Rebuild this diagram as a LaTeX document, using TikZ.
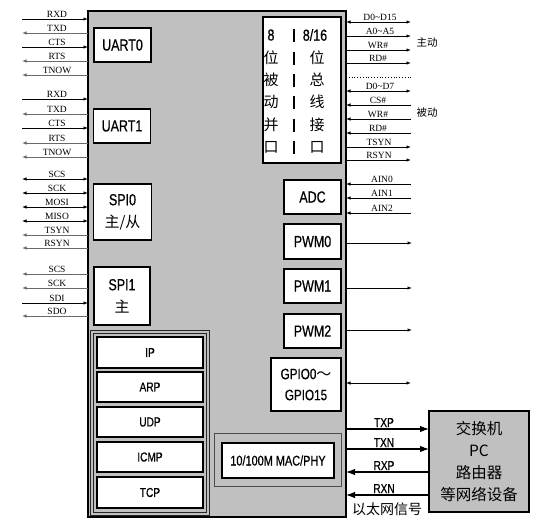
\documentclass[tikz,border=0pt]{standalone}
\usepackage{fontspec}
\setmainfont{Liberation Serif}
\newfontfamily\boxfont[FakeStretch=0.78,FakeBold=0.6]{Liberation Sans}
\newfontfamily\cjkfont{Noto Sans CJK SC}
\usetikzlibrary{arrows.meta}
\definecolor{chipgray}{RGB}{192,192,192}
\definecolor{outgray}{RGB}{105,105,105}
\tikzset{
  chipbox/.style={draw=black, line width=2pt, fill=chipgray, inner sep=0pt, outer sep=0pt},
  blk/.style={draw=black, line width=1.3pt, fill=white, inner sep=0pt, outer sep=0pt, align=center,
              font=\boxfont\fontsize{16}{22}\selectfont},
  stackbox/.style={blk, font=\boxfont\fontsize{13}{15}\selectfont},
  stackframe/.style={draw=black!85, line width=0.8pt, double=chipgray, double distance=1.6pt, inner sep=0pt, outer sep=0pt},
  macframe/.style={draw=black!70, line width=0.9pt, inner sep=0pt, outer sep=0pt},
  netbox/.style={draw=black, line width=2pt, fill=chipgray, inner sep=0pt, outer sep=0pt, align=center,
              font=\cjkfont\fontsize{15.5}{22}\selectfont},
  siglbl/.style={anchor=south, inner sep=0.6pt, font=\fontsize{9.5}{10}\selectfont},
  ethlbl/.style={anchor=south, inner sep=0.8pt, font=\boxfont\fontsize{13}{14}\selectfont},
  cjklbl/.style={inner sep=0pt, font=\cjkfont\fontsize{10.5}{12}\selectfont},
  buschar/.style={inner sep=0pt, font=\cjkfont\fontsize{15}{16}\selectfont},
  busnum/.style={inner sep=0pt, font=\boxfont\fontsize{16}{16}\selectfont},
  tip/.tip={Latex[length=4.5pt,width=3.4pt]},
  sigi/.style={line width=0.8pt, draw=black, -tip},
  sigo/.style={line width=0.8pt, draw=outgray, tip-},
  sigb/.style={line width=0.8pt, draw=black, tip-tip},
  ri/.style={line width=0.8pt, draw=black, tip-},
  ro/.style={line width=0.8pt, draw=black, -tip},
  rb/.style={line width=0.8pt, draw=black, tip-tip},
  eth/.style={line width=1.1pt, draw=black, -{Latex[length=9pt,width=6.5pt]}},
}
\begin{document}
\begin{tikzpicture}[x=1pt,y=-1pt]
\useasboundingbox (0,0) rectangle (548,531);

% chip
\node[chipbox, minimum width=258pt, minimum height=506pt] (chip) at (217,264) {};

% left blocks
\node[blk, minimum width=57pt, minimum height=34pt] (uart0) at (122.5,45) {UART0};
\node[blk, minimum width=57pt, minimum height=34pt] (uart1) at (122,126) {UART1};
\node[blk, minimum width=58pt, minimum height=56pt] (spi0) at (122.5,212) {SPI0\\{\cjkfont\fontsize{15}{22}\selectfont 主/从}};
\node[blk, minimum width=56pt, minimum height=58pt] (spi1) at (122,296) {SPI1\\{\cjkfont\fontsize{15}{22}\selectfont 主}};

% bus block
\node[blk, minimum width=78pt, minimum height=146pt] (bus) at (302,90) {};
\node[busnum] (b00) at (271,35) {8};
\node[busnum] (b02) at (315,35) {8/16};
\foreach \yy/\lc/\rc [count=\i] in {58/位/位, 80/被/总, 102/动/线, 125/并/接, 147/口/口} {
  \node[buschar] (bl\i) at (271,\yy) {\lc};
  \node[buschar] (br\i) at (317,\yy) {\rc};
}
\foreach \yy [count=\i] in {35,58,80,102,125,147} {
  \draw[line width=1.4pt] (294,\yy-6.5) -- (294,\yy+6.5);
}

% right blocks
\node[blk, minimum width=57pt, minimum height=34pt] (adc) at (312.5,197) {ADC};
\node[blk, minimum width=57pt, minimum height=35pt] (pwm0) at (312.5,241.5) {PWM0};
\node[blk, minimum width=57pt, minimum height=34pt] (pwm1) at (312.5,286) {PWM1};
\node[blk, minimum width=57pt, minimum height=34pt] (pwm2) at (312.5,331) {PWM2};
\node[blk, minimum width=70pt, minimum height=53pt, font=\boxfont\fontsize{15}{21}\selectfont] (gpio) at (306,384.5) {GPIO0{\cjkfont ～}\\GPIO15};

% protocol stack
\node[stackframe, minimum width=116pt, minimum height=182pt] (stack) at (150,423) {};
\node[stackbox, minimum width=106pt, minimum height=31pt] (ip) at (150,352.5) {IP};
\node[stackbox, minimum width=106pt, minimum height=30pt] (arp) at (150,387) {ARP};
\node[stackbox, minimum width=106pt, minimum height=30pt] (udp) at (150,422) {UDP};
\node[stackbox, minimum width=106pt, minimum height=30pt] (icmp) at (150,457) {ICMP};
\node[stackbox, minimum width=106pt, minimum height=31pt] (tcp) at (150,492.5) {TCP};

% MAC/PHY
\node[macframe, minimum width=127pt, minimum height=53pt] (macf) at (277.5,459.5) {};
\node[blk, minimum width=112pt, minimum height=35pt, font=\boxfont\fontsize{14}{15}\selectfont] (mac) at (278,460.5) {10/100M MAC/PHY};

% network device
\node[netbox, minimum width=100pt, minimum height=101pt] (net) at (479,461.5) {交换机\\PC\\路由器\\等网络设备};

% left signals
\foreach \yy/\t/\d [count=\i] in {
  19/RXD/i, 33/TXD/o, 47/CTS/i, 61/RTS/o, 75/TNOW/o,
  99/RXD/i, 114/TXD/o, 128/CTS/i, 143/RTS/o, 157/TNOW/o,
  179/SCS/b, 193/SCK/b, 207/MOSI/b, 221/MISO/b, 235/TSYN/o, 248/RSYN/o,
  274/SCS/o, 288/SCK/o, 303/SDI/i, 316/SDO/o} {
  \coordinate (L\i) at (22,\yy);
  \draw[sig\d] (L\i) -- (chip.west |- L\i);
  \node[siglbl] (LT\i) at (57,\yy-0.6) {\t};
}

% right signals
\foreach \yy/\t/\d/\xl [count=\i] in {
  22/{D0\textasciitilde D15}/b/380, 36/{A0\textasciitilde A5}/o/380, 50/{WR\#}/o/378, 63/{RD\#}/o/378,
  91/{D0\textasciitilde D7}/b/380, 105/{CS\#}/i/378, 119/{WR\#}/i/378, 133/{RD\#}/i/378,
  147/TSYN/o/379, 160/RSYN/o/379,
  184/AIN0/i/382, 198/AIN1/i/382, 213/AIN2/i/382} {
  \coordinate (R\i) at (411,\yy);
  \draw[r\d] (chip.east |- R\i) -- (R\i);
  \node[siglbl] (RT\i) at (\xl,\yy-0.6) {\t};
}
\coordinate (dotend) at (411,77);
\draw[line width=0.8pt, dotted] (chip.east |- dotend) -- (dotend);
\node[cjklbl] (zd) at (427,43) {主动};
\node[cjklbl] (bd) at (427,112) {被动};

% PWM / GPIO lines
\coordinate (P0) at (412,243);
\coordinate (P1) at (412,288);
\coordinate (P2) at (412,330);
\coordinate (G0) at (411,383);
\draw[ro] (chip.east |- P0) -- (P0);
\draw[ro] (chip.east |- P1) -- (P1);
\draw[ro] (chip.east |- P2) -- (P2);
\draw[rb] (chip.east |- G0) -- (G0);

% ethernet
\coordinate (E1) at (400,429);
\coordinate (E2) at (400,449);
\coordinate (E3) at (400,472);
\coordinate (E4) at (400,495);
\draw[eth] (chip.east |- E1) -- (net.west |- E1);
\draw[eth] (chip.east |- E2) -- (net.west |- E2);
\draw[eth] (net.west |- E3) -- (chip.east |- E3);
\draw[eth] (net.west |- E4) -- (chip.east |- E4);
\node[ethlbl] (txp) at (384,428) {TXP};
\node[ethlbl] (txn) at (384,448) {TXN};
\node[ethlbl] (rxp) at (384,471) {RXP};
\node[ethlbl] (rxn) at (384,494) {RXN};
\node[inner sep=0pt, font=\cjkfont\fontsize{14}{15}\selectfont] (eth) at (387,509) {以太网信号};
\end{tikzpicture}
\end{document}
